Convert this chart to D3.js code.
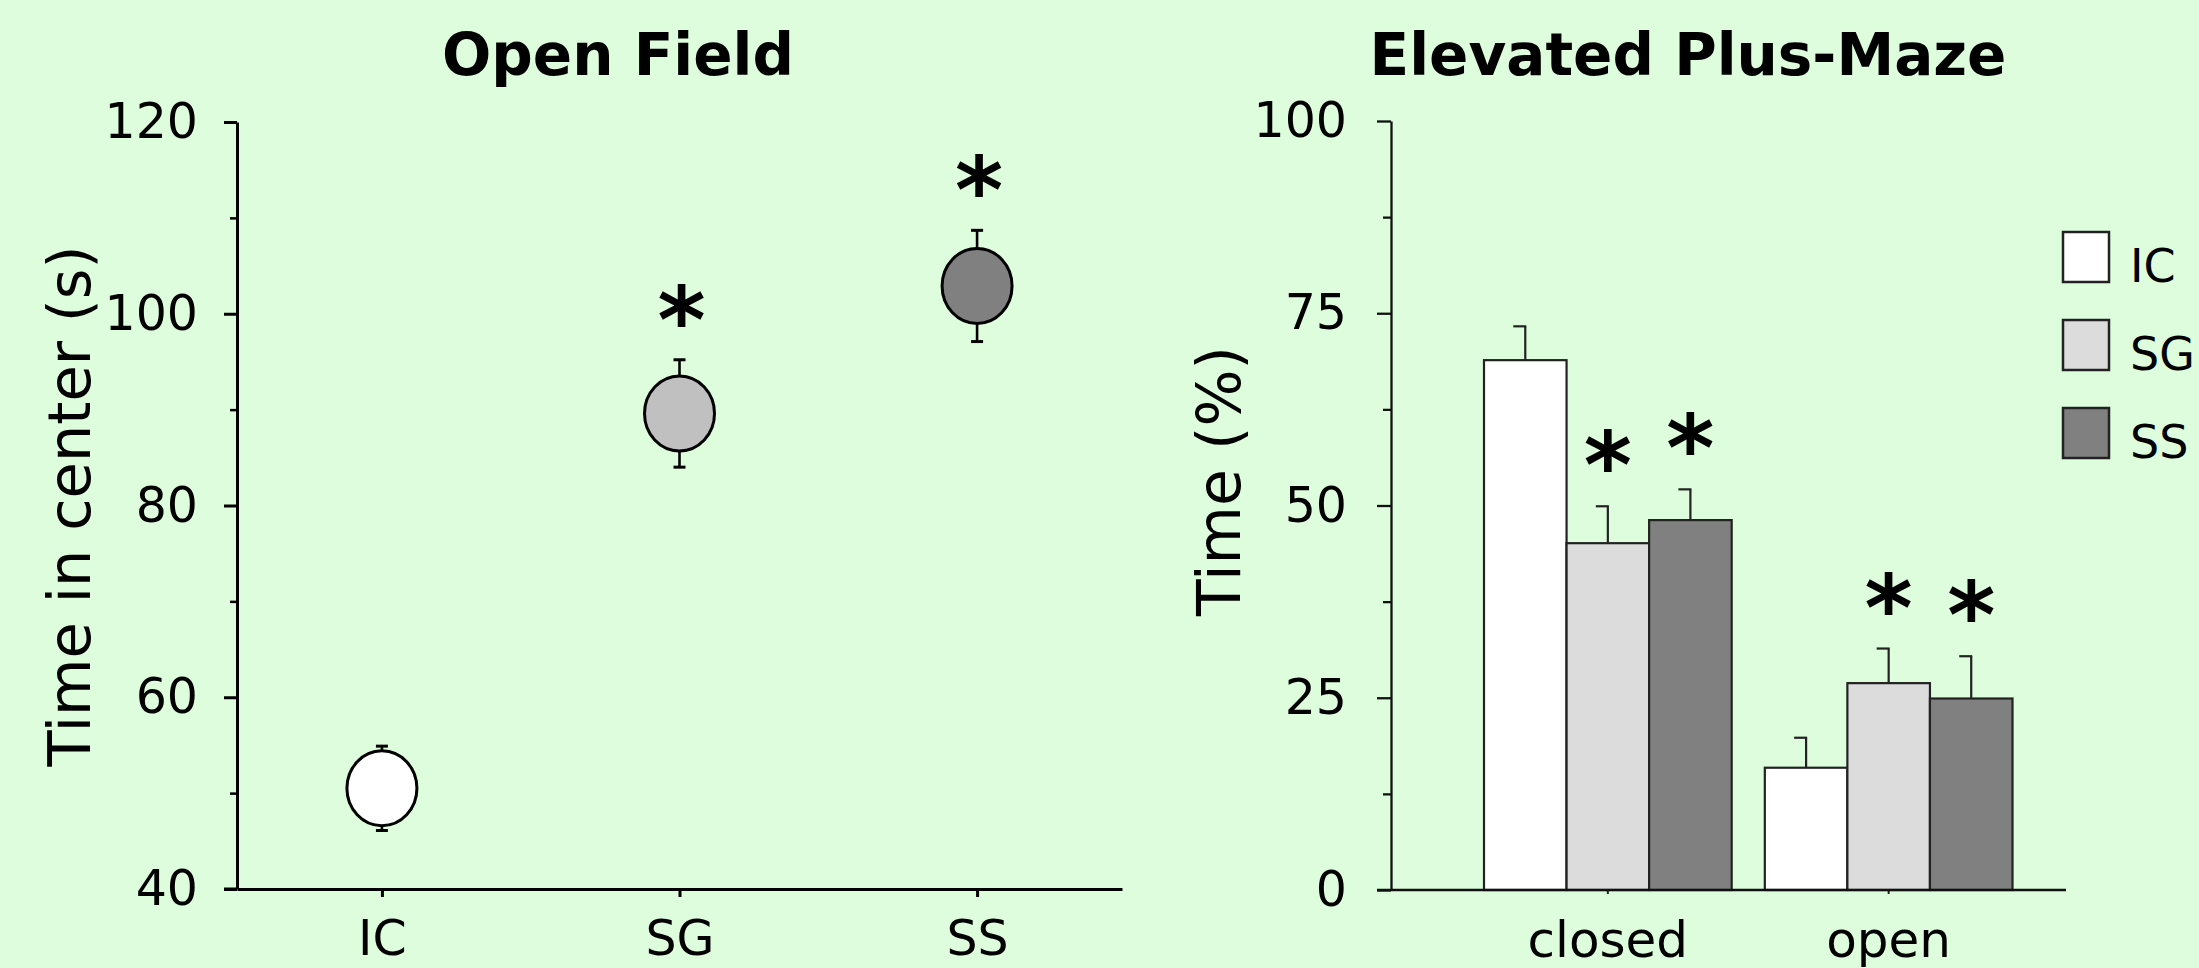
<!DOCTYPE html>
<html>
<head>
<meta charset="utf-8">
<script src="https://cdn.jsdelivr.net/npm/d3@7"></script>
<style>
  html, body { margin: 0; padding: 0; background: #ddfddd; overflow: hidden; }
  svg { display: block; }
  text { font-family: "DejaVu Sans", Verdana, sans-serif; fill: #000; }
</style>
</head>
<body>
<svg id="chart" width="2199" height="968"></svg>
<script>
// ---------- DATA ----------
const ofGroups = ["IC", "SG", "SS"];
const ofMeans = [50.5, 89.6, 102.9];
const ofErrors = [4.4, 5.6, 5.8];
const ofSignificant = [false, true, true];
const ofTicks = [40, 60, 80, 100, 120];
const ofMinorTicks = [50, 70, 90, 110];

const epmCategories = ["closed", "open"];
const epmGroups = ["IC", "SG", "SS"];
const epmClosedMeans = [68.9, 45.1, 48.1];
const epmClosedErrors = [4.4, 4.8, 4.0];
const epmOpenMeans = [15.9, 26.9, 24.9];
const epmOpenErrors = [3.9, 4.5, 5.5];
const epmClosedSignificant = [false, true, true];
const epmOpenSignificant = [false, true, true];
const epmTicks = [0, 25, 50, 75, 100];
const epmMinorTicks = [12.5, 37.5, 62.5, 87.5];

const ofTitle = "Open Field";
const epmTitle = "Elevated Plus-Maze";
const ofYLabel = "Time in center (s)";
const epmYLabel = "Time (%)";

// ---------- STYLE ----------
const ofFills = ["#ffffff", "#c0c0c0", "#808080"];
const epmFills = ["#ffffff", "#dcdcdc", "#808080"];

const svg = d3.select("#chart");
svg.append("rect").attr("width", 2199).attr("height", 968).attr("fill", "#ddfddd");

// ================= OPEN FIELD =================
const of = svg.append("g");
const xOF = d3.scalePoint().domain(ofGroups).range([237, 1122]).padding(0.487);
const yOF = d3.scaleLinear().domain([40, 120]).range([889, 122]);

// y axis
const yAxOF = of.append("g").attr("transform", "translate(237,0)")
  .call(d3.axisLeft(yOF).tickValues(ofTicks).tickSize(13).tickSizeOuter(0).tickPadding(26).tickFormat(d3.format("d")));
yAxOF.select(".domain").attr("stroke", "#000").attr("stroke-width", 3);
yAxOF.selectAll(".tick line").attr("stroke", "#000").attr("stroke-width", 3);
yAxOF.selectAll(".tick text").style("font-size", "49px").attr("font-family", null);
const yMinOF = of.append("g").attr("transform", "translate(237,0)")
  .call(d3.axisLeft(yOF).tickValues(ofMinorTicks).tickSize(7).tickFormat(""));
yMinOF.select(".domain").remove();
yMinOF.selectAll(".tick line").attr("stroke", "#000").attr("stroke-width", 2.5);

// x axis
const xAxOF = of.append("g").attr("transform", "translate(0,889)")
  .call(d3.axisBottom(xOF).tickSize(8).tickSizeOuter(0).tickPadding(23));
xAxOF.select(".domain").attr("stroke", "#000").attr("stroke-width", 3);
xAxOF.selectAll(".tick line").attr("stroke", "#000").attr("stroke-width", 3);
xAxOF.selectAll(".tick text").style("font-size", "49px").attr("font-family", null);
of.append("line").attr("x1", 224).attr("x2", 237).attr("y1", yOF(40)).attr("y2", yOF(40))
  .attr("stroke", "#000").attr("stroke-width", 3);

// error bars
const ofData = ofGroups.map((g, i) => ({g, m: ofMeans[i], e: ofErrors[i], s: ofSignificant[i], fill: ofFills[i]}));
const eb = of.selectAll(".eb").data(ofData).enter().append("g").attr("class", "eb");
eb.append("line").attr("x1", d => xOF(d.g)).attr("x2", d => xOF(d.g))
  .attr("y1", d => yOF(d.m - d.e)).attr("y2", d => yOF(d.m + d.e)).attr("stroke", "#000").attr("stroke-width", 2.6);
eb.append("line").attr("x1", d => xOF(d.g) - 6).attr("x2", d => xOF(d.g) + 6)
  .attr("y1", d => yOF(d.m + d.e)).attr("y2", d => yOF(d.m + d.e)).attr("stroke", "#000").attr("stroke-width", 3);
eb.append("line").attr("x1", d => xOF(d.g) - 6).attr("x2", d => xOF(d.g) + 6)
  .attr("y1", d => yOF(d.m - d.e)).attr("y2", d => yOF(d.m - d.e)).attr("stroke", "#000").attr("stroke-width", 3);
// points
of.selectAll(".pt").data(ofData).enter().append("ellipse").attr("class", "pt")
  .attr("cx", d => xOF(d.g)).attr("cy", d => yOF(d.m)).attr("rx", 35).attr("ry", 37.5)
  .attr("fill", d => d.fill).attr("stroke", "#000").attr("stroke-width", 3);
// asterisks
of.selectAll(".star").data(ofData.filter(d => d.s)).enter().append("text").attr("class", "star")
  .attr("x", d => xOF(d.g) + 2).attr("y", d => yOF(d.m + d.e) - 57 + 50)
  .attr("text-anchor", "middle").style("font-size", "92px").style("font-weight", "bold").text("*");

// title & label
of.append("text").attr("x", 618).attr("y", 75).attr("text-anchor", "middle")
  .style("font-size", "58px").style("font-weight", "bold").text(ofTitle);
of.append("text").attr("transform", "translate(90,506) rotate(-90)").attr("text-anchor", "middle")
  .style("font-size", "59px").text(ofYLabel);

// ================= ELEVATED PLUS-MAZE =================
const ep = svg.append("g");
const x0 = d3.scaleBand().domain(epmCategories).range([1484, 2012.5]).paddingInner(0.118).paddingOuter(0);
const x1 = d3.scaleBand().domain(epmGroups).range([0, x0.bandwidth()]).padding(0);
const yEP = d3.scaleLinear().domain([0, 100]).range([890, 121]);

const yAxEP = ep.append("g").attr("transform", "translate(1391,0)")
  .call(d3.axisLeft(yEP).tickValues(epmTicks).tickSize(14).tickSizeOuter(0).tickPadding(30).tickFormat(d3.format("d")));
yAxEP.select(".domain").attr("stroke", "#111").attr("stroke-width", 2.3);
yAxEP.selectAll(".tick line").attr("stroke", "#111").attr("stroke-width", 2.3);
yAxEP.selectAll(".tick text").style("font-size", "49px").attr("font-family", null);
const yMinEP = ep.append("g").attr("transform", "translate(1391,0)")
  .call(d3.axisLeft(yEP).tickValues(epmMinorTicks).tickSize(8).tickFormat(""));
yMinEP.select(".domain").remove();
yMinEP.selectAll(".tick line").attr("stroke", "#111").attr("stroke-width", 2.3);

// bars
const epmRows = [
  {cat: epmCategories[0], means: epmClosedMeans, errs: epmClosedErrors, sig: epmClosedSignificant},
  {cat: epmCategories[1], means: epmOpenMeans, errs: epmOpenErrors, sig: epmOpenSignificant}
];
const barData = [];
epmRows.forEach(r => epmGroups.forEach((g, i) => barData.push({cat: r.cat, g, m: r.means[i], e: r.errs[i], s: r.sig[i], fill: epmFills[i]})));
const bx = d => x0(d.cat) + x1(d.g);
const bc = d => bx(d) + x1.bandwidth() / 2;

ep.selectAll(".ebar").data(barData).enter().append("line").attr("class", "ebar")
  .attr("x1", bc).attr("x2", bc).attr("y1", d => yEP(d.m)).attr("y2", d => yEP(d.m + d.e))
  .attr("stroke", "#222").attr("stroke-width", 2.2);
ep.selectAll(".ecap").data(barData).enter().append("line").attr("class", "ecap")
  .attr("x1", d => bc(d) - 12).attr("x2", d => bc(d) + 1).attr("y1", d => yEP(d.m + d.e)).attr("y2", d => yEP(d.m + d.e))
  .attr("stroke", "#222").attr("stroke-width", 2.2);
ep.selectAll(".bar").data(barData).enter().append("rect").attr("class", "bar")
  .attr("x", bx).attr("width", x1.bandwidth()).attr("y", d => yEP(d.m)).attr("height", d => yEP(0) - yEP(d.m))
  .attr("fill", d => d.fill).attr("stroke", "#222").attr("stroke-width", 2.2);
ep.selectAll(".star").data(barData.filter(d => d.s)).enter().append("text").attr("class", "star")
  .attr("x", bc).attr("y", d => yEP(d.m + d.e) - 58 + 50)
  .attr("text-anchor", "middle").style("font-size", "92px").style("font-weight", "bold").text("*");

// x axis
const xAxEP = ep.append("g").attr("transform", "translate(0,890)")
  .call(d3.axisBottom(x0).tickSize(4).tickSizeOuter(0).tickPadding(27));
xAxEP.select(".domain").remove();
xAxEP.selectAll(".tick line").attr("stroke", "#222").attr("stroke-width", 2);
xAxEP.selectAll(".tick text").style("font-size", "50px").attr("font-family", null);
ep.append("line").attr("x1", 1377).attr("x2", 2066).attr("y1", yEP(0)).attr("y2", yEP(0))
  .attr("stroke", "#111").attr("stroke-width", 2.3);

// title & label
ep.append("text").attr("x", 1688).attr("y", 75).attr("text-anchor", "middle")
  .style("font-size", "58px").style("font-weight", "bold").text(epmTitle);
ep.append("text").attr("transform", "translate(1240,481) rotate(-90)").attr("text-anchor", "middle")
  .style("font-size", "60px").text(epmYLabel);

// legend
const leg = ep.selectAll(".leg").data(epmGroups).enter().append("g").attr("class", "leg")
  .attr("transform", (d, i) => `translate(2063,${232 + i * 88})`);
leg.append("rect").attr("width", 46).attr("height", 50)
  .attr("fill", (d, i) => epmFills[i]).attr("stroke", "#222").attr("stroke-width", 2.5);
leg.append("text").attr("x", 67).attr("y", 50).style("font-size", "46px").text(d => d);
</script>
</body>
</html>
